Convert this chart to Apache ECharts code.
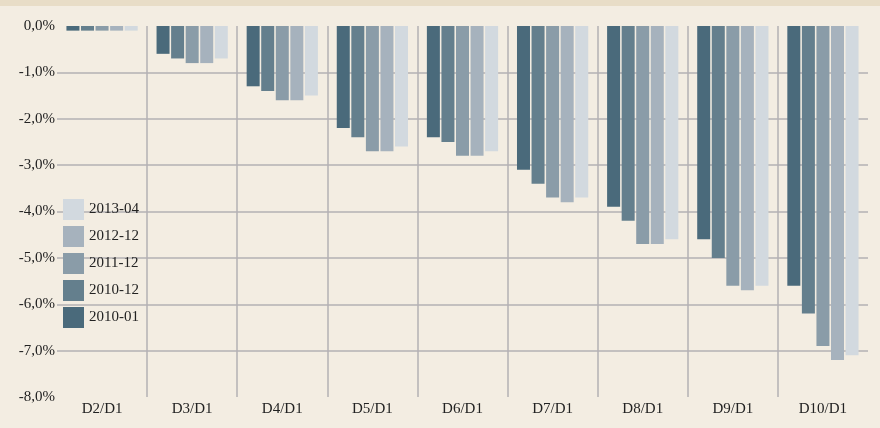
<!DOCTYPE html>
<html>
<head>
<meta charset="utf-8">
<script src="https://cdn.jsdelivr.net/npm/echarts@6/dist/echarts.min.js"></script>
<style>
  html, body { margin: 0; padding: 0; background: #f3ede2; }
  #band { position: absolute; left: 0; top: 0; width: 880px; height: 6px; background: #e8ddc7; }
  #chart { position: absolute; left: 0; top: 0; width: 880px; height: 428px; }
</style>
</head>
<body>
<div id="band"></div>
<div id="chart"></div>
<script>
// categories and series (values in %)
const categories = ['D2/D1', 'D3/D1', 'D4/D1', 'D5/D1', 'D6/D1', 'D7/D1', 'D8/D1', 'D9/D1', 'D10/D1'];
const seriesNames = ['2010-01', '2010-12', '2011-12', '2012-12', '2013-04'];
const s201001 = [-0.1, -0.6, -1.3, -2.2, -2.4, -3.1, -3.9, -4.6, -5.6];
const s201012 = [-0.1, -0.7, -1.4, -2.4, -2.5, -3.4, -4.2, -5.0, -6.2];
const s201112 = [-0.1, -0.8, -1.6, -2.7, -2.8, -3.7, -4.7, -5.6, -6.9];
const s201212 = [-0.1, -0.8, -1.6, -2.7, -2.8, -3.8, -4.7, -5.7, -7.2];
const s201304 = [-0.1, -0.7, -1.5, -2.6, -2.7, -3.7, -4.6, -5.6, -7.1];
const seriesData = [s201001, s201012, s201112, s201212, s201304];
const colors = ['#4a6a7b', '#647f8d', '#8a9ca8', '#a6b2bd', '#d2d9df'];

const font = '"Liberation Serif", "DejaVu Serif", serif';

const chart = echarts.init(document.getElementById('chart'));
const option = {
  backgroundColor: 'transparent',
  animation: false,
  textStyle: { fontFamily: font },
  grid: { left: 57, right: 12, top: 26, bottom: 31, containLabel: false },
  legend: {
    orient: 'vertical',
    left: 63,
    top: 199,
    padding: 0,
    itemWidth: 21,
    itemHeight: 21,
    itemGap: 6,
    icon: 'rect',
    data: seriesNames.slice().reverse(),
    textStyle: { fontFamily: font, fontSize: 15, color: '#222' }
  },
  xAxis: {
    type: 'category',
    data: categories,
    position: 'bottom',
    axisLine: { show: false },
    axisTick: { show: false },
    axisLabel: { fontFamily: font, fontSize: 15, color: '#222', margin: 5 },
    splitLine: {
      show: true,
      showMinLine: false,
      showMaxLine: false,
      lineStyle: { color: '#b3b1b3', width: 1.5 }
    }
  },
  yAxis: {
    type: 'value',
    min: -8,
    max: 0,
    interval: 1,
    axisLine: { show: false },
    axisTick: { show: false },
    axisLabel: {
      fontFamily: font,
      fontSize: 15,
      color: '#222',
      margin: 2,
      formatter: v => v.toFixed(1).replace('.', ',') + '%'
    },
    splitLine: {
      show: true,
      showMinLine: false,
      showMaxLine: false,
      lineStyle: { color: '#b3b1b3', width: 1.5 }
    }
  },
  series: seriesNames.map((name, i) => ({
    name: name,
    type: 'bar',
    data: seriesData[i],
    barWidth: 13,
    barGap: '12%',
    itemStyle: { color: colors[i] }
  }))
};
chart.setOption(option);
</script>
</body>
</html>
